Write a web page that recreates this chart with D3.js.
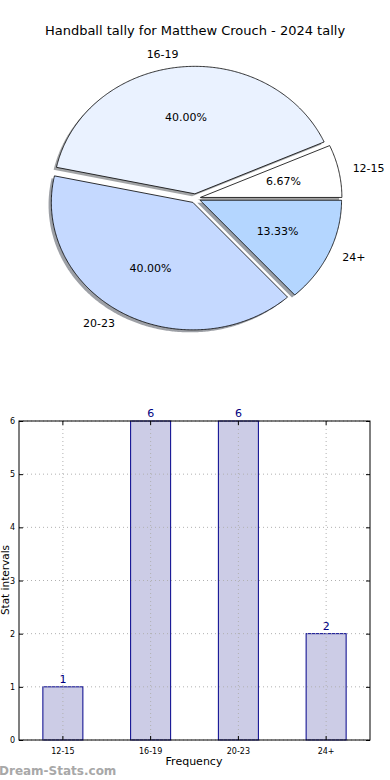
<!DOCTYPE html>
<html><head><meta charset="utf-8">
<script src="https://cdn.jsdelivr.net/npm/d3@7"></script>
<style>body{margin:0;background:#fff}svg{display:block}text{font-family:"DejaVu Sans",sans-serif}</style>
</head><body>
<script>
const categories = ["12-15","16-19","20-23","24+"];
const values = [1,6,6,2];
const pieColors = ["#ffffff","#eaf2ff","#c5d9ff","#b4d6ff"];
const yTicks = [0,1,2,3,4,5,6];
const title = "Handball tally for Matthew Crouch - 2024 tally";

const W=390,H=780;
const svg=d3.select("body").append("svg").attr("width",W).attr("height",H);

svg.append("text").attr("x",195).attr("y",30).attr("text-anchor","middle")
  .attr("dominant-baseline","central").attr("font-size",13).attr("fill","#000").text(title);

// Pie (elliptical, exploded, shadowed), counter-clockwise from east
const cx=195.4, cy=198.4, rx=141.5, ry=127.5, ex=0.036;
const pie=d3.pie().sort(null).value(d=>d).startAngle(0).endAngle(2*Math.PI);
const arcs=pie(values);
const total=d3.sum(values);
const lineGen=d3.line();
function wedgePts(a,ox,oy){
  const pts=[[ox,oy]];
  const n=Math.max(8,Math.ceil((a.endAngle-a.startAngle)/0.01));
  for(let i=0;i<=n;i++){
    const t=a.startAngle+(a.endAngle-a.startAngle)*i/n;
    pts.push([ox+rx*Math.cos(t), oy-ry*Math.sin(t)]);
  }
  return pts;
}
const info=arcs.map((a,i)=>{
  const m=(a.startAngle+a.endAngle)/2;
  return {a,i,m,ox:cx+ex*rx*Math.cos(m),oy:cy-ex*ry*Math.sin(m)};
});
const pg=svg.append("g");
info.forEach(d=>{
  const c=d3.rgb(pieColors[d.i]);
  const sc=d3.rgb(c.r*0.3,c.g*0.3,c.b*0.3);
  pg.append("path").attr("d",lineGen(wedgePts(d.a,d.ox-2.8,d.oy+2.5))+"Z")
    .attr("fill",sc.toString()).attr("fill-opacity",0.5);
});
info.forEach(d=>{
  pg.append("path").attr("d",lineGen(wedgePts(d.a,d.ox,d.oy))+"Z")
    .attr("fill",pieColors[d.i]).attr("stroke","#000").attr("stroke-width",0.8)
    .attr("stroke-linejoin","miter");
});
info.forEach(d=>{
  const lx=d.ox+1.1*rx*Math.cos(d.m), ly=d.oy-1.1*ry*Math.sin(d.m);
  pg.append("text").attr("x",lx).attr("y",ly).attr("font-size",11)
    .attr("text-anchor",Math.cos(d.m)>0?"start":"end").attr("dominant-baseline","central")
    .text(categories[d.i]);
  const px=d.ox+0.6*rx*Math.cos(d.m), py=d.oy-0.6*ry*Math.sin(d.m);
  pg.append("text").attr("x",px).attr("y",py).attr("font-size",11)
    .attr("text-anchor","middle").attr("dominant-baseline","central")
    .text((values[d.i]/total*100).toFixed(2)+"%");
});

// Bar chart
const L=19,R=370,T=421,B=740;
const x=d3.scaleBand().domain(categories).range([L,R]).padding(0);
const y=d3.scaleLinear().domain([0,6]).range([B,T]);
const bw=x.bandwidth()*0.456;
const bg=svg.append("g");
bg.selectAll("rect.bar").data(values).enter().append("rect").attr("class","bar")
  .attr("x",(d,i)=>x(categories[i])+x.bandwidth()/2-bw/2).attr("y",d=>y(d))
  .attr("width",bw).attr("height",d=>B-y(d))
  .attr("fill","#ccccE6").attr("stroke","#00008b").attr("stroke-width",1);
// grid
const grid=bg.append("g").attr("stroke","#b0b0b0").attr("stroke-width",1).attr("stroke-dasharray","1,3");
yTicks.forEach(t=>grid.append("line").attr("x1",L).attr("x2",R).attr("y1",y(t)).attr("y2",y(t)));
categories.forEach(c=>grid.append("line").attr("x1",x(c)+x.bandwidth()/2).attr("x2",x(c)+x.bandwidth()/2).attr("y1",T).attr("y2",B));
// value labels
bg.selectAll("text.val").data(values).enter().append("text").attr("class","val")
  .attr("x",(d,i)=>x(categories[i])+x.bandwidth()/2).attr("y",d=>y(d)-4)
  .attr("text-anchor","middle").attr("font-size",11).attr("fill","#000080").text(d=>d);
// frame
bg.append("rect").attr("x",L).attr("y",T).attr("width",R-L).attr("height",B-T)
  .attr("fill","none").attr("stroke","#000").attr("stroke-width",1);
// axes
const yAx=d3.axisLeft(y).tickValues(yTicks).tickSize(-4).tickPadding(4).tickFormat(d3.format("d"));
const ga=bg.append("g").attr("transform",`translate(${L},0)`).call(yAx);
ga.select(".domain").remove();
ga.selectAll("text").attr("font-size",8).attr("font-family","DejaVu Sans");
const gr=bg.append("g").attr("transform",`translate(${R},0)`).call(d3.axisRight(y).tickValues(yTicks).tickSize(-4).tickFormat(""));
gr.select(".domain").remove();
const xAx=d3.axisBottom(x).tickSize(-4).tickPadding(8);
const gx=bg.append("g").attr("transform",`translate(0,${B})`).call(xAx);
gx.select(".domain").remove();
gx.selectAll("text").attr("font-size",8).attr("font-family","DejaVu Sans");
const gt=bg.append("g").attr("transform",`translate(0,${T})`).call(d3.axisTop(x).tickSize(-4).tickFormat(""));
gt.select(".domain").remove();

svg.append("text").attr("x",194).attr("y",761).attr("text-anchor","middle").attr("dominant-baseline","central")
  .attr("font-size",11).text("Frequency");
svg.append("text").attr("transform","translate(5,580) rotate(-90)").attr("text-anchor","middle")
  .attr("dominant-baseline","central").attr("font-size",10.5).text("Stat intervals");
svg.append("text").attr("x",-1).attr("y",771).attr("dominant-baseline","central")
  .attr("font-size",12).attr("font-weight","bold").attr("fill","#a8a8a8").text("Dream-Stats.com");
</script>
</body></html>
